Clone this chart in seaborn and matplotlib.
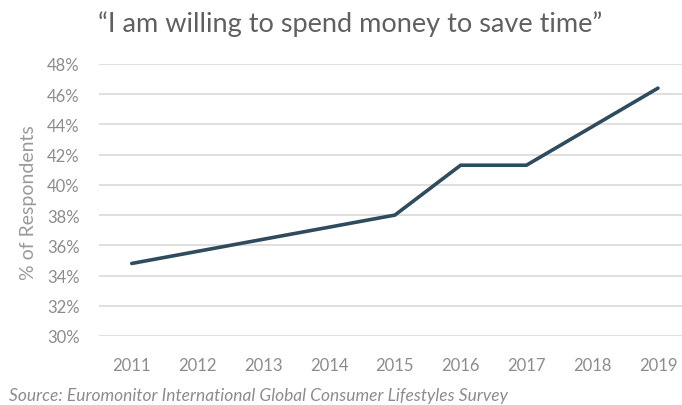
import matplotlib
matplotlib.use("Agg")
import matplotlib.pyplot as plt
import seaborn as sns
import pandas as pd
from matplotlib.ticker import FuncFormatter

years = [2011, 2012, 2013, 2014, 2015, 2016, 2017, 2018, 2019]
share = [34.8, 35.6, 36.4, 37.2, 38.0, 41.3, 41.3, 43.85, 46.4]
yticks = [30, 32, 34, 36, 38, 40, 42, 44, 46, 48]

title = "\u201cI am willing to spend money to save time\u201d"
ylabel = "% of Respondents"
source = "Source: Euromonitor International Global Consumer Lifestyles Survey"

sns.set_theme(style="white")
plt.rcParams["font.family"] = ["Lato", "DejaVu Sans"]

df = pd.DataFrame({"year": years, "share": share})

fig = plt.figure(figsize=(6.82, 4.06), dpi=100)
ax = fig.add_axes([0.145, 0.170, 0.868, 0.670])

sns.lineplot(data=df, x="year", y="share", ax=ax, color="#2f4b5e", linewidth=2.6,
             solid_capstyle="round", solid_joinstyle="miter")

ax.set_xlim(years[0] - 0.5, years[-1] + 0.5)
ax.set_ylim(yticks[0], yticks[-1])
ax.set_yticks(yticks)
ax.set_xticks(years)
ax.set_xticklabels([str(y) for y in years])
ax.yaxis.set_major_formatter(FuncFormatter(lambda v, p: f"{v:.0f}%"))
ax.grid(axis="y", color="#dcdcdc", linewidth=1.3)
ax.set_axisbelow(True)
for s in ax.spines.values():
    s.set_visible(False)
ax.tick_params(axis="both", length=0, labelsize=12, labelcolor="#8c8c8c")
ax.tick_params(axis="x", pad=15)
ax.tick_params(axis="y", pad=14)
ax.set_xlabel("")
ax.set_ylabel(ylabel, fontsize=14, color="#9a9a9a")
ax.yaxis.set_label_coords(-0.104, 0.493)

fig.text(0.513, 1 - 32 / 406, title, ha="center", va="baseline", fontsize=19.5,
         color="#606060")
fig.text(0.013, 0.025, source, ha="left", va="center", fontsize=12.5, color="#8c8c8c",
         style="italic")

fig.savefig("out.png", dpi=100)
